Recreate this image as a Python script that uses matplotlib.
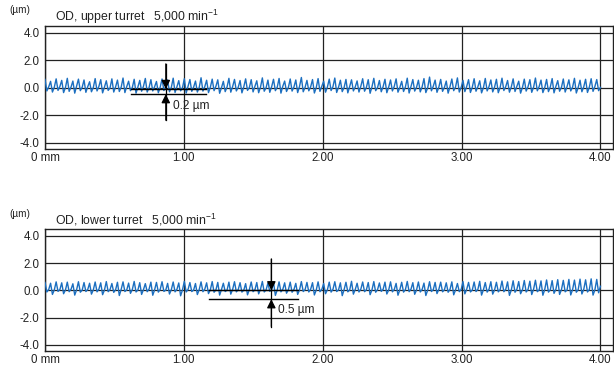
import numpy as np
import matplotlib
matplotlib.use("Agg")
import matplotlib.pyplot as plt

plt.rcParams['font.family'] = ['Liberation Sans', 'DejaVu Sans']
plt.rcParams['mathtext.fontset'] = 'custom'
plt.rcParams['mathtext.rm'] = 'Liberation Sans'

# profile values (um), evenly spaced over 0..4 mm
upper_vals = [
    0.62, -0.22, 0.08, 0.48, -0.30, 0.05, 0.66, -0.18, 0.10, 0.55, -0.34, 0.02,
    0.70, -0.25, 0.06, 0.50, -0.38, 0.12, 0.64, -0.20, 0.04, 0.58, -0.32, 0.09,
    0.45, -0.28, 0.03, 0.68, -0.22, 0.11, 0.60, -0.36, 0.06, 0.52, -0.18, 0.00,
    0.66, -0.30, 0.08, 0.57, -0.26, 0.05, 0.72, -0.34, 0.10, 0.49, -0.20, 0.03,
    0.63, -0.38, 0.07, 0.55, -0.24, 0.12, 0.69, -0.30, 0.02, 0.60, -0.22, 0.09,
    0.47, -0.35, 0.05, 0.65, -0.19, 0.10, 0.58, -0.28, 0.04, 0.71, -0.33, 0.08,
    0.53, -0.21, 0.01, 0.67, -0.37, 0.11, 0.61, -0.25, 0.06, 0.50, -0.30, 0.03,
    0.74, -0.23, 0.09, 0.56, -0.34, 0.05, 0.64, -0.20, 0.12, 0.59, -0.39, 0.02,
    0.48, -0.27, 0.07, 0.70, -0.31, 0.10, 0.62, -0.22, 0.04, 0.54, -0.36, 0.08,
    0.66, -0.18, 0.03, 0.60, -0.29, 0.11, 0.52, -0.35, 0.06, 0.73, -0.24, 0.01,
    0.57, -0.32, 0.09, 0.63, -0.20, 0.05, 0.69, -0.38, 0.12, 0.50, -0.26, 0.03,
    0.65, -0.23, 0.07, 0.58, -0.34, 0.10, 0.76, -0.28, 0.04, 0.55, -0.21, 0.08,
    0.61, -0.37, 0.02, 0.68, -0.25, 0.11, 0.49, -0.31, 0.06, 0.64, -0.19, 0.09,
    0.72, -0.33, 0.05, 0.56, -0.27, 0.03, 0.62, -0.36, 0.10, 0.59, -0.22, 0.07,
    0.51, -0.30, 0.12, 0.67, -0.24, 0.04, 0.60, -0.39, 0.08, 0.70, -0.20, 0.02,
    0.54, -0.28, 0.09, 0.63, -0.35, 0.06, 0.58, -0.22, 0.11, 0.66, -0.31, 0.03,
    0.48, -0.26, 0.07, 0.71, -0.37, 0.10, 0.61, -0.23, 0.05, 0.56, -0.29, 0.08,
    0.68, -0.34, 0.01, 0.79, -0.21, 0.12, 0.57, -0.32, 0.06, 0.62, -0.25, 0.04,
    0.50, -0.38, 0.09, 0.65, -0.20, 0.07, 0.73, -0.30, 0.03, 0.55, -0.27, 0.11,
    0.60, -0.33, 0.05, 0.67, -0.24, 0.08, 0.52, -0.36, 0.02, 0.69, -0.22, 0.10,
    0.58, -0.29, 0.06, 0.63, -0.35, 0.04, 0.71, -0.19, 0.09, 0.54, -0.31, 0.07,
    0.66, -0.26, 0.12, 0.49, -0.38, 0.03, 0.64, -0.23, 0.08, 0.60, -0.32, 0.05,
    0.72, -0.21, 0.10, 0.57, -0.34, 0.02, 0.62, -0.27, 0.07, 0.68, -0.36, 0.11,
    0.53, -0.24, 0.04, 0.65, -0.30, 0.09, 0.59, -0.22, 0.06, 0.70, -0.37, 0.03,
    0.56, -0.28, 0.08, 0.63, -0.33, 0.05, 0.67, -0.25, 0.10, 0.61, -0.20, 0.04,
]

lower_vals = [
    0.58, -0.12, 0.06, 0.52, -0.30, 0.03, 0.62, -0.08, 0.05, 0.55, -0.25, 0.02,
    0.60, -0.10, 0.07, 0.48, -0.35, 0.04, 0.63, -0.14, 0.01, 0.57, -0.09, 0.06,
    0.52, -0.28, 0.03, 0.61, -0.11, 0.08, 0.55, -0.32, 0.02, 0.64, -0.10, 0.05,
    0.50, -0.15, 0.04, 0.59, -0.38, 0.07, 0.62, -0.09, 0.03, 0.53, -0.22, 0.06,
    0.65, -0.12, 0.02, 0.56, -0.30, 0.05, 0.49, -0.10, 0.08, 0.60, -0.36, 0.04,
    0.58, -0.13, 0.06, 0.63, -0.08, 0.01, 0.51, -0.27, 0.05, 0.61, -0.11, 0.07,
    0.54, -0.40, 0.03, 0.66, -0.12, 0.06, 0.57, -0.09, 0.02, 0.50, -0.31, 0.05,
    0.62, -0.10, 0.08, 0.55, -0.24, 0.04, 0.64, -0.14, 0.03, 0.58, -0.35, 0.06,
    0.52, -0.09, 0.02, 0.60, -0.28, 0.07, 0.63, -0.11, 0.05, 0.56, -0.13, 0.01,
    0.49, -0.33, 0.06, 0.61, -0.10, 0.04, 0.57, -0.26, 0.08, 0.65, -0.12, 0.03,
    0.53, -0.08, 0.05, 0.59, -0.37, 0.02, 0.62, -0.11, 0.07, 0.55, -0.21, 0.04,
    0.60, -0.14, 0.06, 0.51, -0.30, 0.03, 0.64, -0.09, 0.05, 0.58, -0.12, 0.08,
    0.56, -0.34, 0.02, 0.62, -0.10, 0.06, 0.50, -0.25, 0.04, 0.60, -0.13, 0.07,
    0.63, -0.09, 0.03, 0.55, -0.39, 0.05, 0.59, -0.11, 0.02, 0.66, -0.28, 0.06,
    0.52, -0.12, 0.08, 0.61, -0.10, 0.04, 0.57, -0.32, 0.03, 0.64, -0.14, 0.05,
    0.54, -0.08, 0.07, 0.60, -0.27, 0.02, 0.62, -0.11, 0.06, 0.51, -0.36, 0.04,
    0.59, -0.13, 0.05, 0.65, -0.10, 0.08, 0.56, -0.29, 0.03, 0.61, -0.12, 0.06,
    0.53, -0.38, 0.02, 0.63, -0.09, 0.05, 0.58, -0.24, 0.07, 0.60, -0.11, 0.04,
    0.55, -0.14, 0.06, 0.62, -0.33, 0.03, 0.50, -0.10, 0.05, 0.64, -0.26, 0.08,
    0.58, -0.12, 0.02, 0.61, -0.09, 0.06, 0.66, -0.35, 0.04, 0.57, -0.13, 0.07,
    0.63, -0.28, 0.03, 0.59, -0.11, 0.05, 0.68, -0.10, 0.06, 0.62, -0.37, 0.02,
    0.70, -0.14, 0.07, 0.64, -0.25, 0.04, 0.72, -0.12, 0.05, 0.67, -0.31, 0.08,
    0.74, -0.10, 0.03, 0.69, -0.36, 0.06, 0.76, -0.13, 0.04, 0.71, -0.22, 0.07,
    0.78, -0.30, 0.05, 0.73, -0.11, 0.02, 0.80, -0.34, 0.06, 0.75, -0.14, 0.04,
    0.82, -0.27, 0.07, 0.77, -0.12, 0.05, 0.84, -0.35, 0.03, 0.80, -0.18, 0.30,
]

x_ticks = [0, 1, 2, 3, 4]
x_labels = ['0 mm', '1.00', '2.00', '3.00', '4.00']
y_ticks = [-4, -2, 0, 2, 4]
y_labels = ['-4.0', '-2.0', '0.0', '2.0', '4.0']

titles = ['OD, upper turret   5,000 min$^{-1}$', 'OD, lower turret   5,000 min$^{-1}$']
# measurement marker of each panel
marks = [
    dict(x=0.87, hx=(0.62, 1.16), hy=(-0.08, -0.45), top=1.75, bot=-2.35, label='0.2 µm', lx=0.92, ly=-1.3),
    dict(x=1.63, hx=(1.18, 1.82), hy=(0.0, -0.65), top=2.3, bot=-2.65, label='0.5 µm', lx=1.68, ly=-1.45),
]

blue = '#1c6fc0'
ink = '#222222'
fig = plt.figure(figsize=(6.14, 3.68), dpi=100)
axes = [fig.add_axes([0.0733, 0.595, 0.925, 0.334]),
        fig.add_axes([0.0733, 0.046, 0.925, 0.332])]

for ax, vals, m in zip(axes, [upper_vals, lower_vals], marks):
    xs = np.linspace(0, 4, len(vals))
    ax.plot(xs, vals, color=blue, lw=1.0, zorder=3)
    ax.set_xlim(0, 4.09)
    ax.set_ylim(-4.45, 4.5)
    ax.set_xticks(x_ticks)
    ax.set_xticklabels(x_labels)
    ax.set_yticks(y_ticks)
    ax.set_yticklabels(y_labels)
    ax.tick_params(length=0, labelsize=8.3, colors=ink)
    ax.tick_params(axis='y', pad=4)
    ax.tick_params(axis='x', pad=2)
    ax.grid(True, color=ink, lw=0.9)
    ax.set_axisbelow(True)
    for s in ax.spines.values():
        s.set_color(ink)
        s.set_linewidth(1.0)

    for yy in m['hy']:
        ax.plot(m['hx'], [yy, yy], color='black', lw=1.0, zorder=4)
    ax.plot([m['x'], m['x']], [m['bot'], m['top']], color='black', lw=0.9, zorder=4)
    ap = dict(arrowstyle='-|>', color='black', lw=0.9, mutation_scale=13, shrinkA=0, shrinkB=0)
    ax.annotate('', xy=(m['x'], m['hy'][0]), xytext=(m['x'], m['top']), arrowprops=ap, zorder=5)
    ax.annotate('', xy=(m['x'], m['hy'][1]), xytext=(m['x'], m['bot']), arrowprops=ap, zorder=5)
    ax.text(m['lx'], m['ly'], m['label'], fontsize=8.6, va='center', ha='left', color=ink, zorder=5)

fig.text(0.016, 0.973, '(µm)', fontsize=7.2, va='center', color=ink)
fig.text(0.089, 0.953, titles[0], fontsize=8.8, va='center', color=ink)
fig.text(0.016, 0.418, '(µm)', fontsize=7.2, va='center', color=ink)
fig.text(0.089, 0.403, titles[1], fontsize=8.8, va='center', color=ink)

fig.savefig('out.png', dpi=100)
